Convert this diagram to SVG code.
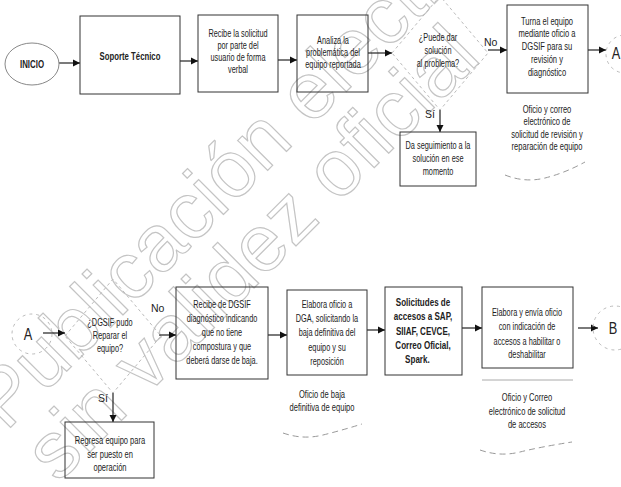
<svg xmlns="http://www.w3.org/2000/svg" width="621" height="487" viewBox="0 0 621 487">
<defs>
<marker id="ah" markerWidth="8" markerHeight="8" refX="7" refY="4" orient="auto" markerUnits="userSpaceOnUse">
<path d="M0,0.5 L7,4 L0,7.5 Z" fill="#111"/>
</marker>
<style>
.box{fill:none;stroke:#333;stroke-width:1}
.dia{fill:none;stroke:#bbb;stroke-width:1;stroke-dasharray:3 3}
.con{fill:none;stroke:#bbb;stroke-width:1;stroke-dasharray:3 4}
.ln{fill:none;stroke:#222;stroke-width:1.2}
.wav{fill:none;stroke:#999;stroke-width:1;stroke-dasharray:6 4}
.t{font-family:"Liberation Sans",Arial,sans-serif;font-size:10.5px;fill:#222;text-anchor:middle}
.b{font-weight:bold}
.lab{font-family:"Liberation Sans",Arial,sans-serif;font-size:10.5px;fill:#222}
.big{font-family:"Liberation Sans",Arial,sans-serif;font-size:16px;fill:#222;text-anchor:middle}
.wm{font-family:"Liberation Sans",Arial,sans-serif;font-size:80px;fill:none;stroke:#c4c4c4;stroke-width:1.2}
</style>
</defs>
<rect width="621" height="487" fill="#fff"/>

<g id="watermark">
<text class="wm" transform="translate(6,432) rotate(-45)">Publicación electrónica</text>
<text class="wm" transform="translate(58,484) rotate(-45)">sin validez oficial</text>
</g>

<g id="connectors">
<line class="ln" x1="59" y1="63" x2="80" y2="63" marker-end="url(#ah)"/>
<line class="ln" x1="180" y1="61" x2="198" y2="61" marker-end="url(#ah)"/>
<line class="ln" x1="278" y1="60" x2="297" y2="60" marker-end="url(#ah)"/>
<line class="ln" x1="368" y1="53" x2="392" y2="53" marker-end="url(#ah)"/>
<line class="ln" x1="488" y1="50" x2="507" y2="50" marker-end="url(#ah)"/>
<line class="ln" x1="588" y1="50" x2="606" y2="50" marker-end="url(#ah)"/>
<line class="ln" x1="440" y1="110" x2="440" y2="132" marker-end="url(#ah)"/>
<line class="ln" x1="43" y1="333" x2="65" y2="333" marker-end="url(#ah)"/>
<line class="ln" x1="159" y1="335" x2="176" y2="335" marker-end="url(#ah)"/>
<line class="ln" x1="268" y1="335" x2="287" y2="335" marker-end="url(#ah)"/>
<line class="ln" x1="367" y1="330" x2="385" y2="330" marker-end="url(#ah)"/>
<line class="ln" x1="462" y1="328" x2="482" y2="328" marker-end="url(#ah)"/>
<line class="ln" x1="578" y1="328" x2="598" y2="328" marker-end="url(#ah)"/>
<line class="ln" x1="113" y1="393" x2="113" y2="422" marker-end="url(#ah)"/>
<text class="lab" x="484" y="46">No</text>
<text class="lab" x="425" y="118">Sí</text>
<text class="lab" x="151" y="312">No</text>
<text class="lab" x="98" y="402">Sí</text>
</g>

<g id="inicio">
<ellipse cx="32" cy="64" rx="27" ry="21" fill="none" stroke="#888" stroke-width="1"/>
<text class="t b" transform="translate(32,0) scale(.75,1)"><tspan x="0" y="68">INICIO</tspan></text>
</g>

<g id="soporte">
<rect class="box" x="80" y="16" width="100" height="78"/>
<text class="t b" transform="translate(130,0) scale(.74,1)"><tspan x="0" y="60">Soporte Técnico</tspan></text>
</g>

<g id="recibe">
<rect class="box" x="198" y="15" width="80" height="77"/>
<text class="t" transform="translate(238,0) scale(.7,1)"><tspan x="0" y="37">Recibe la solicitud</tspan><tspan x="0" y="49">por parte del</tspan><tspan x="0" y="61">usuario de forma</tspan><tspan x="0" y="73">verbal</tspan></text>
</g>

<g id="analiza">
<rect class="box" x="297" y="15" width="71" height="77"/>
<text class="t" transform="translate(333,0) scale(.7,1)"><tspan x="0" y="44">Analiza la</tspan><tspan x="0" y="56">problemática del</tspan><tspan x="0" y="68">equipo reportada</tspan></text>
</g>

<g id="decision1">
<path class="dia" d="M392,53 L440,-4 L488,53 L440,110 Z"/>
<text class="t" transform="translate(438,0) scale(.7,1)"><tspan x="0" y="41">¿Puede dar</tspan><tspan x="0" y="54">solución</tspan><tspan x="0" y="67">al problema?</tspan></text>
</g>

<g id="turna">
<rect class="box" x="507" y="5" width="81" height="88"/>
<text class="t" transform="translate(547,0) scale(.72,1)"><tspan x="0" y="25">Turna el equipo</tspan><tspan x="0" y="37">mediante oficio a</tspan><tspan x="0" y="50">DGSIF para su</tspan><tspan x="0" y="63">revisión y</tspan><tspan x="0" y="76">diagnóstico</tspan></text>
</g>

<g id="conA1">
<circle class="con" cx="625" cy="54" r="19"/>
<text class="big" transform="translate(616,0) scale(.8,1)"><tspan x="0" y="59">A</tspan></text>
</g>

<g id="doc1">
<text class="t" transform="translate(547,0) scale(.72,1)"><tspan x="0" y="113">Oficio y correo</tspan><tspan x="0" y="125">electrónico de</tspan><tspan x="0" y="138">solicitud de revisión y</tspan><tspan x="0" y="150">reparación de equipo</tspan></text>
<path class="wav" d="M505,175 Q525,183 545,178 T585,162"/>
</g>

<g id="seguimiento">
<rect class="box" x="400" y="132" width="76" height="54"/>
<text class="t" transform="translate(438,0) scale(.7,1)"><tspan x="0" y="149">Da seguimiento a la</tspan><tspan x="0" y="162">solución en ese</tspan><tspan x="0" y="175">momento</tspan></text>
</g>

<g id="conA2">
<circle class="con" cx="32" cy="334" r="20"/>
<text class="big" transform="translate(28,0) scale(.8,1)"><tspan x="0" y="340">A</tspan></text>
</g>

<g id="decision2">
<path class="dia" d="M65,336 L113,279 L161,336 L113,393 Z"/>
<text class="t" transform="translate(110,0) scale(.7,1)"><tspan x="0" y="326">¿DGSIF pudo</tspan><tspan x="0" y="339">Reparar el</tspan><tspan x="0" y="352">equipo?</tspan></text>
</g>

<g id="regresa">
<rect class="box" x="65" y="422" width="89" height="56"/>
<text class="t" transform="translate(110,0) scale(.72,1)"><tspan x="0" y="444">Regresa equipo para</tspan><tspan x="0" y="458">ser puesto en</tspan><tspan x="0" y="471">operación</tspan></text>
</g>

<g id="recibeDGSIF">
<rect class="box" x="176" y="287" width="92" height="92"/>
<text class="t" transform="translate(222,0) scale(.7,1)"><tspan x="0" y="308">Recibe de DGSIF</tspan><tspan x="0" y="322">diagnóstico indicando</tspan><tspan x="0" y="336">que no tiene</tspan><tspan x="0" y="350">compostura y que</tspan><tspan x="0" y="364">deberá darse de baja.</tspan></text>
</g>

<g id="elaboraOficio">
<rect class="box" x="287" y="290" width="80" height="85"/>
<text class="t" transform="translate(327,0) scale(.7,1)"><tspan x="0" y="308">Elabora oficio a</tspan><tspan x="0" y="322">DGA, solicitando la</tspan><tspan x="0" y="336">baja definitiva del</tspan><tspan x="0" y="351">equipo y su</tspan><tspan x="0" y="365">reposición</tspan></text>
</g>

<g id="doc2">
<text class="t" transform="translate(322,0) scale(.72,1)"><tspan x="0" y="398">Oficio de baja</tspan><tspan x="0" y="411">definitiva de equipo</tspan></text>
<path class="wav" d="M283,433 Q303,440 323,435 T362,424"/>
</g>

<g id="solicitudes">
<rect class="box" x="385" y="287" width="77" height="88"/>
<text class="t b" style="font-size:11.5px" transform="translate(423,0) scale(.7,1)"><tspan x="0" y="306">Solicitudes de</tspan><tspan x="0" y="320">accesos a SAP,</tspan><tspan x="0" y="335">SIIAF, CEVCE,</tspan><tspan x="0" y="349">Correo Oficial,</tspan><tspan x="-8" y="363">Spark.</tspan></text>
</g>

<g id="elaboraEnvia">
<rect class="box" x="482" y="287" width="91" height="81"/>
<text class="t" transform="translate(527,0) scale(.7,1)"><tspan x="0" y="316">Elabora y envía oficio</tspan><tspan x="0" y="330">con indicación de</tspan><tspan x="0" y="345">accesos a habilitar o</tspan><tspan x="0" y="358">deshabilitar</tspan></text>
</g>

<g id="doc3">
<line x1="482" y1="380" x2="573" y2="380" stroke="#aaa" stroke-width="1"/>
<text class="t" transform="translate(527,0) scale(.72,1)"><tspan x="0" y="401">Oficio y Correo</tspan><tspan x="0" y="415">electrónico de solicitud</tspan><tspan x="0" y="428">de accesos</tspan></text>
<path class="wav" d="M480,450 Q500,457 520,452 T572,442"/>
</g>

<g id="conB">
<circle class="con" cx="615" cy="328" r="22"/>
<text class="big" transform="translate(613,0) scale(.8,1)"><tspan x="0" y="334">B</tspan></text>
</g>
</svg>
